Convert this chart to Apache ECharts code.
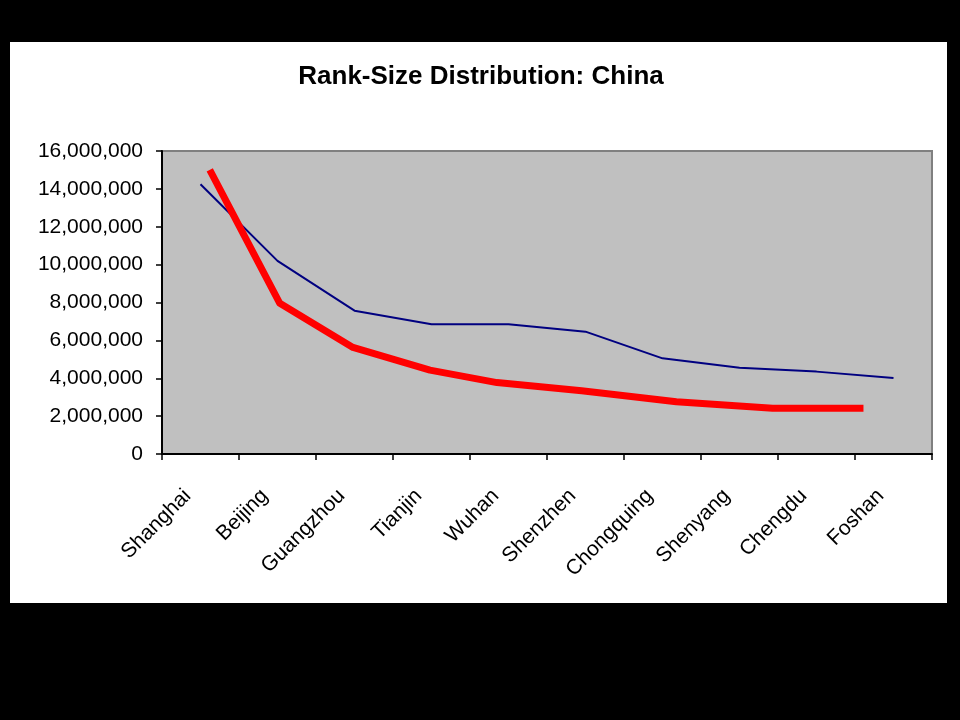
<!DOCTYPE html>
<html>
<head>
<meta charset="utf-8">
<script src="https://cdn.jsdelivr.net/npm/echarts@6/dist/echarts.min.js"></script>
<style>
html,body{margin:0;padding:0;background:#000;}
#c{width:960px;height:720px;}
</style>
</head>
<body>
<div id="c"></div>
<script>
var title = 'Rank-Size Distribution: China';
var cities = ['Shanghai','Beijing','Guangzhou','Tianjin','Wuhan','Shenzhen','Chongquing','Shenyang','Chengdu','Foshan'];
var population = [14240000, 10200000, 7570000, 6850000, 6850000, 6460000, 5050000, 4560000, 4350000, 4010000];
// red line: position along the category scale (index units) and value
var rankRulePos = [0.12, 1.03, 1.98, 2.98, 3.85, 4.95, 6.18, 7.43, 8.61];
var rankRuleVal = [15000000, 7960000, 5630000, 4430000, 3770000, 3340000, 2760000, 2410000, 2410000];
var yTicks = [0, 2000000, 4000000, 6000000, 8000000, 10000000, 12000000, 14000000, 16000000];

var chart = echarts.init(document.getElementById('c'));
var font = 'Liberation Sans, Arial, sans-serif';
function fmt(v){ return v.toString().replace(/\B(?=(\d{3})+(?!\d))/g, ','); }
var redData = rankRulePos.map(function(p,i){ return [p, rankRuleVal[i]]; });

chart.setOption({
  backgroundColor: '#000',
  animation: false,
  graphic: [{
    type: 'rect', z: -100, silent: true,
    shape: {x: 10, y: 42, width: 937, height: 561},
    style: {fill: '#fff'}
  }],
  title: {
    text: title, left: 476, top: 59, textAlign: 'center',
    textStyle: {fontFamily: font, fontSize: 26, fontWeight: 'bold', color: '#000'}
  },
  grid: {
    left: 162, top: 151, right: 28, bottom: 266,
    show: true, backgroundColor: '#C0C0C0', borderColor: '#808080', borderWidth: 2
  },
  xAxis: [{
    type: 'category', data: cities, boundaryGap: true,
    axisLine: {lineStyle: {color: '#000', width: 2}},
    axisTick: {show: true, length: 6, lineStyle: {color: '#000', width: 1.5}},
    axisLabel: {rotate: 45, margin: 26, interval: 0, color: '#000', fontFamily: font, fontSize: 21, padding: [0, 18, 0, 0]}
  },{
    type: 'value', min: -0.5, max: 9.5, show: false
  }],
  yAxis: {
    type: 'value', min: 0, max: 16000000, interval: 2000000,
    axisLine: {show: true, onZero: false, lineStyle: {color: '#000', width: 2}},
    axisTick: {show: true, length: 6, lineStyle: {color: '#000', width: 1.5}},
    splitLine: {show: false},
    axisLabel: {margin: 19, color: '#000', fontFamily: font, fontSize: 21, formatter: function(v){ return fmt(v); }}
  },
  series: [{
    type: 'line', data: population, xAxisIndex: 0,
    symbol: 'none', lineStyle: {color: '#000080', width: 2}
  },{
    type: 'line', data: redData, xAxisIndex: 1,
    symbol: 'none', lineStyle: {color: '#FF0000', width: 7, join: 'round', cap: 'butt'}
  }]
});
</script>
</body>
</html>
